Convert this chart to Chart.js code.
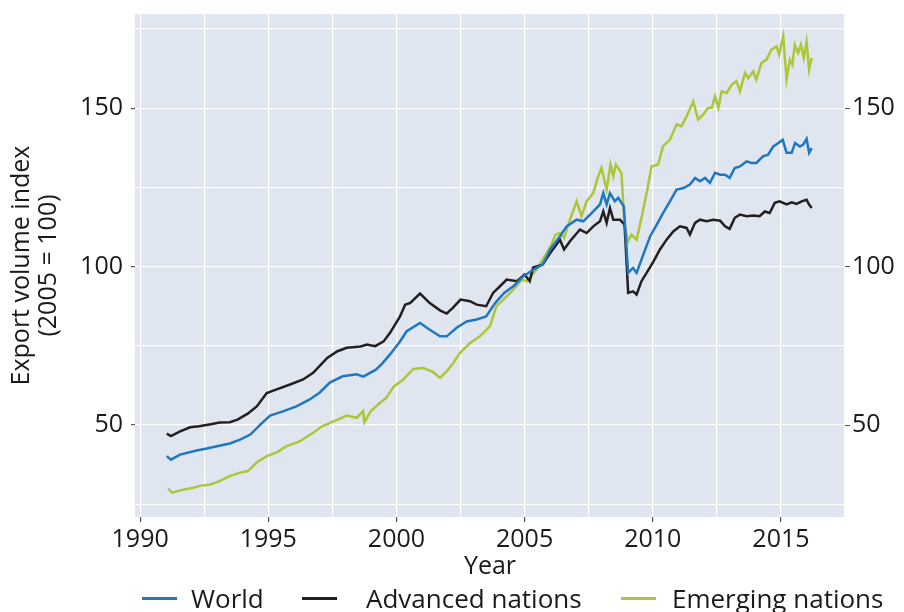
<!DOCTYPE html>
<html>
<head>
<meta charset="utf-8">
<script src="https://cdn.jsdelivr.net/npm/chart.js@4.4.1/dist/chart.umd.min.js"></script>
<style>
  html, body { margin: 0; padding: 0; background: #fff; }
  #wrap { position: relative; width: 904px; height: 612px; }
  #legend { position: absolute; left: 0; top: 582px; width: 904px; height: 32px;
            font-family: "Open Sans", sans-serif; font-size: 26px; color: #1a1a1a; }
  #legend .swatch { position: absolute; top: 15px; height: 2.5px; width: 35px; }
  #legend .label { position: absolute; top: 0; line-height: 32px; white-space: nowrap; }
</style>
</head>
<body>
<div id="wrap">
  <canvas id="chart" width="904" height="612"></canvas>
  <div id="legend"></div>
</div>
<script>
// Export volume index (2005 = 100)
const worldYears = [1991.04, 1991.2, 1991.56, 1992.2, 1992.6, 1993.0, 1993.5, 1993.9, 1994.3, 1994.7,
    1995.07, 1995.6, 1996.1, 1996.6, 1997.0, 1997.4, 1997.9, 1998.45, 1998.7, 1999.2,
    1999.45, 1999.75, 2000.14, 2000.4, 2000.92, 2001.3, 2001.7, 2001.96, 2002.35, 2002.74,
    2003.13, 2003.5, 2003.85, 2004.2, 2004.56, 2004.95, 2005.33, 2005.7, 2006.0, 2006.38,
    2006.64, 2007.03, 2007.29, 2007.68, 2007.94, 2008.07, 2008.2, 2008.33, 2008.52, 2008.65,
    2008.87, 2009.04, 2009.23, 2009.37, 2009.63, 2009.9, 2010.15, 2010.4, 2010.67, 2010.93,
    2011.2, 2011.45, 2011.65, 2011.84, 2012.04, 2012.23, 2012.43, 2012.63, 2012.82, 2013.0,
    2013.2, 2013.4, 2013.66, 2013.85, 2014.04, 2014.3, 2014.5, 2014.7, 2014.9, 2015.07,
    2015.22, 2015.42, 2015.55, 2015.74, 2015.87, 2016.0, 2016.1, 2016.2];
const worldValues = [40.2, 39.1, 40.7, 42.0, 42.6, 43.3, 44.2, 45.4, 47.0, 50.2,
    53.0, 54.4, 55.9, 58.0, 60.2, 63.4, 65.4, 66.0, 65.3, 67.5,
    69.5, 72.3, 76.4, 79.6, 82.2, 80.1, 78.0, 78.0, 80.7, 82.7,
    83.3, 84.3, 88.5, 91.7, 93.8, 96.9, 99.0, 100.6, 105.4, 109.6,
    112.7, 114.8, 114.3, 117.4, 119.6, 123.2, 119.6, 123.2, 120.6, 121.7,
    119.0, 98.0, 99.6, 98.0, 103.8, 109.6, 113.2, 116.9, 120.6, 124.3,
    124.8, 125.9, 128.0, 126.9, 128.0, 126.4, 129.6, 129.0, 129.0, 128.0,
    131.1, 131.6, 133.2, 132.7, 132.7, 134.8, 135.3, 137.9, 139.0, 140.0,
    135.9, 135.9, 139.0, 137.9, 138.5, 140.3, 135.9, 137.4];

const advancedYears = [1991.04, 1991.2, 1991.56, 1991.95, 1992.3, 1992.7, 1993.1, 1993.5, 1993.8, 1994.2,
    1994.55, 1994.94, 1995.3, 1995.85, 1996.36, 1996.75, 1997.3, 1997.7, 1998.06, 1998.6,
    1998.85, 1999.17, 1999.5, 1999.75, 2000.14, 2000.34, 2000.53, 2000.92, 2001.3, 2001.7,
    2001.96, 2002.2, 2002.5, 2002.87, 2003.13, 2003.5, 2003.77, 2004.04, 2004.3, 2004.7,
    2005.0, 2005.2, 2005.33, 2005.7, 2006.0, 2006.38, 2006.54, 2006.77, 2007.16, 2007.42,
    2007.68, 2007.94, 2008.07, 2008.2, 2008.33, 2008.46, 2008.72, 2008.9, 2009.04, 2009.23,
    2009.37, 2009.56, 2009.76, 2010.02, 2010.28, 2010.54, 2010.8, 2011.06, 2011.32, 2011.45,
    2011.65, 2011.84, 2012.1, 2012.36, 2012.63, 2012.82, 2013.0, 2013.2, 2013.4, 2013.66,
    2013.92, 2014.17, 2014.37, 2014.56, 2014.76, 2014.95, 2015.22, 2015.42, 2015.61, 2015.81,
    2016.0, 2016.1, 2016.2];
const advancedValues = [47.3, 46.5, 48.0, 49.3, 49.6, 50.2, 50.8, 50.9, 51.7, 53.6,
    55.9, 60.1, 61.2, 62.8, 64.4, 66.5, 71.2, 73.3, 74.4, 74.8,
    75.4, 74.9, 76.4, 79.1, 84.3, 88.0, 88.5, 91.5, 88.5, 86.2,
    85.2, 87.0, 89.6, 89.1, 88.0, 87.5, 91.7, 93.8, 95.9, 95.4,
    97.5, 95.4, 99.7, 100.6, 104.3, 108.5, 105.4, 108.0, 111.7, 110.6,
    112.7, 114.3, 117.4, 113.8, 118.5, 114.8, 114.8, 113.2, 91.7, 92.2,
    91.2, 95.4, 98.0, 101.5, 105.4, 108.5, 111.1, 112.7, 112.2, 110.1,
    113.8, 114.8, 114.3, 114.8, 114.5, 112.7, 111.9, 115.4, 116.4, 115.9,
    116.1, 115.9, 117.4, 116.9, 120.1, 120.6, 119.6, 120.3, 119.8, 120.6,
    121.1, 119.6, 118.5];

const emergingYears = [1991.1, 1991.24, 1991.56, 1992.08, 1992.35, 1992.7, 1993.1, 1993.5, 1993.9, 1994.2,
    1994.55, 1994.94, 1995.33, 1995.7, 1996.24, 1996.75, 1997.1, 1997.7, 1998.06, 1998.45,
    1998.7, 1998.75, 1999.0, 1999.36, 1999.6, 1999.9, 2000.27, 2000.66, 2001.05, 2001.44,
    2001.7, 2001.96, 2002.22, 2002.48, 2002.87, 2003.26, 2003.65, 2003.9, 2004.17, 2004.56,
    2004.9, 2005.08, 2005.47, 2005.86, 2006.05, 2006.2, 2006.38, 2006.54, 2006.77, 2007.03,
    2007.22, 2007.42, 2007.68, 2007.87, 2008.0, 2008.2, 2008.35, 2008.46, 2008.56, 2008.78,
    2008.9, 2009.04, 2009.17, 2009.37, 2009.6, 2009.8, 2009.95, 2010.21, 2010.4, 2010.67,
    2010.93, 2011.12, 2011.32, 2011.58, 2011.77, 2011.97, 2012.16, 2012.3, 2012.43, 2012.56,
    2012.69, 2012.89, 2013.08, 2013.27, 2013.4, 2013.6, 2013.73, 2013.92, 2014.04, 2014.24,
    2014.44, 2014.63, 2014.83, 2014.93, 2015.09, 2015.22, 2015.35, 2015.45, 2015.54, 2015.67,
    2015.78, 2015.89, 2016.0, 2016.1, 2016.2];
const emergingValues = [30.0, 28.7, 29.4, 30.2, 30.9, 31.2, 32.3, 33.9, 35.0, 35.5,
    38.2, 40.2, 41.4, 43.3, 44.9, 47.6, 49.6, 51.7, 53.0, 52.3,
    54.4, 50.9, 54.4, 57.0, 58.6, 62.2, 64.4, 67.7, 68.0, 66.7,
    64.9, 67.0, 69.6, 72.8, 75.9, 78.0, 81.2, 87.5, 89.6, 92.7,
    95.9, 95.4, 99.1, 104.3, 106.9, 110.0, 110.6, 109.0, 114.8, 120.6,
    115.9, 120.6, 123.2, 128.5, 131.1, 124.3, 132.2, 128.5, 132.2, 129.5,
    112.7, 108.0, 110.1, 108.5, 116.9, 124.8, 131.6, 132.2, 138.0, 140.0,
    144.8, 144.3, 147.4, 152.1, 146.4, 148.0, 150.1, 150.1, 153.8, 150.1,
    155.3, 154.8, 157.4, 158.5, 155.3, 161.1, 159.5, 161.6, 159.0, 164.2,
    165.3, 168.5, 169.5, 166.9, 172.7, 159.0, 165.3, 163.7, 170.0, 167.4,
    170.0, 165.8, 171.0, 162.1, 165.8];

const seriesNames = ["World", "Advanced nations", "Emerging nations"];
const seriesColors = ["#1f77c2", "#231f20", "#adc637"];
const xTicks = [1990, 1992.5, 1995, 1997.5, 2000, 2002.5, 2005, 2007.5, 2010, 2012.5, 2015, 2017.5];
const yTicks = [25, 50, 75, 100, 125, 150, 175];

const FONT = "'Open Sans', sans-serif";
const TEXT = "#1a1a1a";

function points(xs, ys) {
    return xs.map(function (x, i) {
        return {x: x, y: ys[i]};
    });
}

function setTicks(values) {
    return function (scale) {
        scale.ticks = values.map(function (v) {
            return {value: v};
        });
    };
}

// fixed axis sizes so the plot box lands where the reference has it
function fitY(width) {
    return function (scale) {
        scale.width = width;
        scale.paddingTop = 0;
        scale.paddingBottom = 0;
    };
}

// light blue panel behind the plot
const panel = {
    id: 'panel',
    beforeDraw: function (chart) {
        const a = chart.chartArea;
        const ctx = chart.ctx;
        ctx.save();
        ctx.fillStyle = '#dfe6f0';
        ctx.fillRect(a.left, a.top, a.right - a.left, a.bottom - a.top);
        ctx.restore();
    }
};

const series = [
    points(worldYears, worldValues),
    points(advancedYears, advancedValues),
    points(emergingYears, emergingValues)
];

const chart = new Chart(document.getElementById('chart'), {
    type: 'line',
    data: {
        datasets: series.map(function (data, i) {
            return {
                label: seriesNames[i],
                data: data,
                borderColor: seriesColors[i],
                backgroundColor: seriesColors[i],
                borderWidth: 2.5,
                pointRadius: 0,
                tension: 0
            };
        })
    },
    options: {
        responsive: false,
        animation: false,
        layout: {padding: {top: 14, bottom: 30, left: 0, right: 0}},
        plugins: {
            legend: {display: false},
            tooltip: {enabled: false}
        },
        scales: {
            x: {
                type: 'linear',
                min: 1989.8,
                max: 2017.5,
                afterBuildTicks: setTicks(xTicks),
                afterFit: function (scale) { scale.height = 65; },
                border: {display: false},
                grid: {
                    color: '#ffffff',
                    lineWidth: 1.2,
                    tickLength: 5,
                    tickColor: function (c) {
                        return c.tick && c.tick.value % 5 === 0 ? '#555' : 'rgba(0,0,0,0)';
                    }
                },
                ticks: {
                    autoSkip: false,
                    maxRotation: 0,
                    padding: 3,
                    color: TEXT,
                    font: {family: FONT, size: 25},
                    callback: function (v) { return v % 5 === 0 ? String(v) : ''; }
                },
                title: {
                    display: true,
                    text: 'Year',
                    color: TEXT,
                    font: {family: FONT, size: 25},
                    padding: 0
                }
            },
            y: {
                position: 'left',
                min: 21,
                max: 179.7,
                afterBuildTicks: setTicks(yTicks),
                afterFit: fitY(135),
                border: {display: false},
                grid: {
                    color: '#ffffff',
                    lineWidth: 1.2,
                    tickLength: 4,
                    tickColor: function (c) {
                        return c.tick && c.tick.value % 50 === 0 ? '#555' : 'rgba(0,0,0,0)';
                    }
                },
                ticks: {
                    padding: 8,
                    color: TEXT,
                    font: {family: FONT, size: 25},
                    callback: function (v) { return v % 50 === 0 ? String(v) : ''; }
                },
                title: {
                    display: true,
                    text: ['Export volume index', '(2005 = 100)'],
                    color: TEXT,
                    font: {family: FONT, size: 25, lineHeight: 1.05},
                    padding: {top: 9, bottom: 0}
                }
            },
            y2: {
                position: 'right',
                min: 21,
                max: 179.7,
                afterBuildTicks: setTicks(yTicks),
                afterFit: fitY(59),
                border: {display: false},
                grid: {
                    drawOnChartArea: false,
                    tickLength: 5,
                    tickColor: function (c) {
                        return c.tick && c.tick.value % 50 === 0 ? '#555' : 'rgba(0,0,0,0)';
                    }
                },
                ticks: {
                    padding: 2,
                    color: TEXT,
                    font: {family: FONT, size: 25},
                    callback: function (v) { return v % 50 === 0 ? String(v) : ''; }
                }
            }
        }
    },
    plugins: [panel]
});

// legend below the chart, one entry per dataset
const legendPos = [[142, 191], [302, 366], [621, 672]];
const legendEl = document.getElementById('legend');
chart.data.datasets.forEach(function (ds, i) {
    const sw = document.createElement('span');
    sw.className = 'swatch';
    sw.style.left = legendPos[i][0] + 'px';
    sw.style.background = ds.borderColor;
    legendEl.appendChild(sw);

    const lb = document.createElement('span');
    lb.className = 'label';
    lb.style.left = legendPos[i][1] + 'px';
    lb.textContent = ds.label;
    legendEl.appendChild(lb);
});
</script>
</body>
</html>
